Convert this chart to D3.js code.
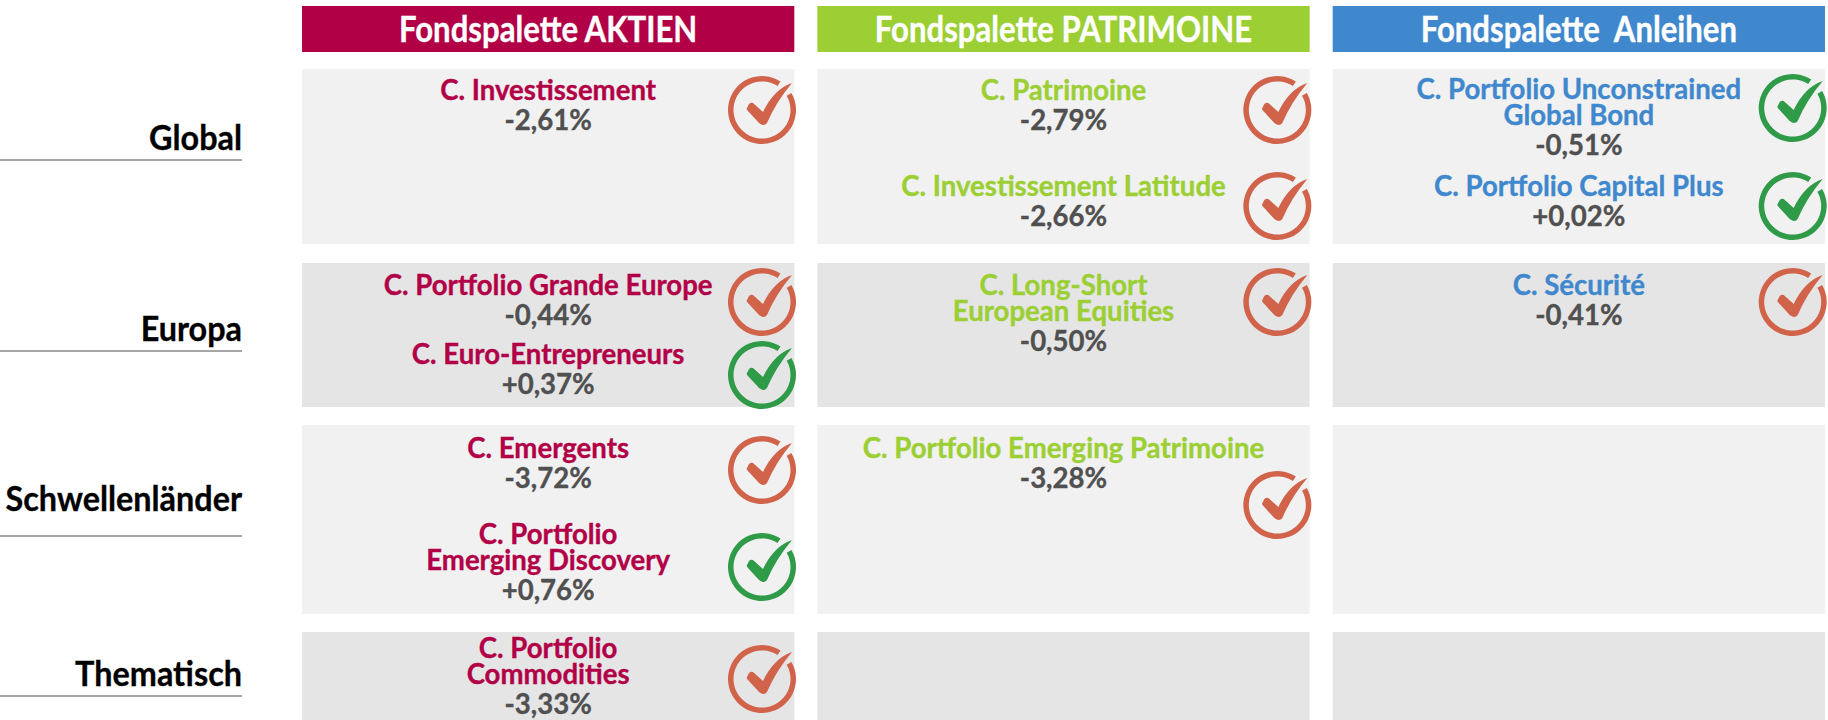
<!DOCTYPE html>
<html>
<head>
<meta charset="utf-8">
<script src="https://cdn.jsdelivr.net/npm/d3@7"></script>
<style>
  body { margin: 0; background: #fff; }
  text { font-family: Lato, "Open Sans", sans-serif; font-weight: 700; white-space: pre; stroke-width: 0.35px; }
</style>
</head>
<body>
<script>
var columns = ["Fondspalette AKTIEN", "Fondspalette PATRIMOINE", "Fondspalette  Anleihen"];
var regions = ["Global", "Europa", "Schwellenländer", "Thematisch"];

// one entry per fund, all the lists are in the same order
var fundNames = [
    ["C. Investissement"],
    ["C. Patrimoine"],
    ["C. Investissement Latitude"],
    ["C. Portfolio Unconstrained", "Global Bond"],
    ["C. Portfolio Capital Plus"],
    ["C. Portfolio Grande Europe"],
    ["C. Euro-Entrepreneurs"],
    ["C. Long-Short", "European Equities"],
    ["C. Sécurité"],
    ["C. Emergents"],
    ["C. Portfolio", "Emerging Discovery"],
    ["C. Portfolio Emerging Patrimoine"],
    ["C. Portfolio", "Commodities"]
];
var fundColumns = [0, 1, 1, 2, 2, 0, 0, 1, 2, 0, 0, 1, 0];
var fundRegions = [0, 0, 0, 0, 0, 1, 1, 1, 1, 2, 2, 2, 3];
var fundReturns = ["-2,61%", "-2,79%", "-2,66%", "-0,51%", "+0,02%", "-0,44%", "+0,37%", "-0,50%", "-0,41%", "-3,72%", "+0,76%", "-3,28%", "-3,33%"];
var fundPositive = [false, false, false, true, true, false, true, false, false, false, true, false, false];

// layout of the page
var textTop = [22, 22, 118, 21, 118, 23, 92, 23, 23, 24, 110, 24, 17];
var iconTop = [41, 41, 137, 39, 137, 39, 112, 39, 39, 45, 142, 80, 47];
var rowTops = [69, 263, 425, 632];
var rowBottoms = [244, 407, 614, 720];
var ruleY = [160, 351, 536, 696];
var labelY = [150, 341, 511, 686];

var colColors = ["#b20047", "#9bcf33", "#3f88cd"];
var rowFills = ["#f1f1f1", "#e5e5e5", "#f1f1f1", "#e5e5e5"];
var okColor = "#2f9a48", badColor = "#d0634a";

var width = 1828, height = 720;
var xCol = d3.scaleBand().domain(d3.range(3)).range([302, 1825]).paddingInner(0.0447);
var yTop = d3.scaleOrdinal().domain(d3.range(4)).range(rowTops);
var yBottom = d3.scaleOrdinal().domain(d3.range(4)).range(rowBottoms);

var svg = d3.select("body").append("svg")
    .attr("width", width)
    .attr("height", height)
    .style("display", "block");

// text is narrower than Lato, squeeze it sideways
function squeezed(sel, x, y, sx) {
    sel.attr("transform", "translate(" + x + "," + y + ") scale(" + sx + ",1)");
}

// headers
columns.forEach(function(c, i) {
    svg.append("rect")
        .attr("x", xCol(i)).attr("y", 6)
        .attr("width", xCol.bandwidth()).attr("height", 46)
        .attr("fill", colColors[i]);
    svg.append("text").text(c)
        .attr("text-anchor", "middle")
        .attr("font-size", 36)
        .attr("fill", "#fff")
        .attr("stroke", "#fff")
        .call(squeezed, xCol(i) + xCol.bandwidth() / 2, 42, 0.865);
});

// cells
regions.forEach(function(r, j) {
    columns.forEach(function(c, i) {
        svg.append("rect")
            .attr("x", xCol(i)).attr("y", yTop(j))
            .attr("width", xCol.bandwidth()).attr("height", yBottom(j) - yTop(j))
            .attr("fill", rowFills[j]);
    });
    svg.append("text").text(r)
        .attr("text-anchor", "end")
        .attr("font-size", 35)
        .attr("fill", "#000")
        .attr("stroke", "#000")
        .call(squeezed, 242, labelY[j], 0.925);
    svg.append("line")
        .attr("x1", 0).attr("x2", 242)
        .attr("y1", ruleY[j]).attr("y2", ruleY[j])
        .attr("stroke", "#a6a6a6")
        .attr("stroke-width", 2);
});

var ring = d3.arc()
    .innerRadius(28.5)
    .outerRadius(34)
    .startAngle(60 * Math.PI / 180)
    .endAngle((360 + 33) * Math.PI / 180);
var tick = "M30,-27 Q12,-21 1,2 L-9,-7 Q-11,-8 -13,-6 L-15,-2 Q-16,-1 -14,1 L-3,13 Q2,17 5,13 Q14,-8 30,-27 Z";

// funds
fundNames.forEach(function(lines, k) {
    var col = fundColumns[k], row = fundRegions[k];
    var cx = xCol(col) + xCol.bandwidth() / 2;
    var y = yTop(row) + textTop[k];
    var g = svg.append("g");

    lines.forEach(function(l, n) {
        g.append("text").text(l)
            .attr("text-anchor", "middle")
            .attr("font-size", 28)
            .attr("fill", colColors[col])
            .attr("stroke", colColors[col])
            .call(squeezed, cx, y + 9 + n * 26, 0.985);
    });
    g.append("text").text(fundReturns[k])
        .attr("text-anchor", "middle")
        .attr("font-size", 28)
        .attr("fill", "#505050")
        .attr("stroke", "#505050")
        .call(squeezed, cx, y + 39 + (lines.length - 1) * 26, 0.985);

    var icon = g.append("g")
        .attr("transform", "translate(" + (xCol(col) + 460) + "," + (yTop(row) + iconTop[k]) + ")")
        .attr("fill", fundPositive[k] ? okColor : badColor);
    icon.append("path").attr("d", ring());
    icon.append("path").attr("d", tick);
});
</script>
</body>
</html>
